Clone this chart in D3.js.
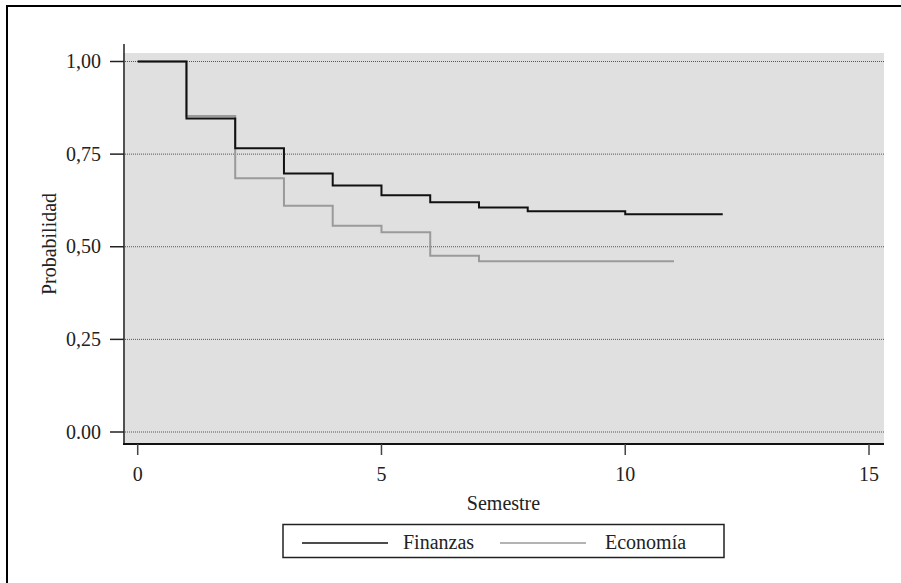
<!DOCTYPE html>
<html>
<head>
<meta charset="utf-8">
<script src="https://cdn.jsdelivr.net/npm/d3@7"></script>
<style>
  html, body { margin: 0; padding: 0; background: #fff; }
  svg { display: block; font-family: "Liberation Serif", "DejaVu Serif", serif; }
</style>
</head>
<body>
<svg id="chart" width="901" height="583"></svg>
<script>
// ---- data ----
const finanzasTimes  = [0, 1, 2, 3, 4, 5, 6, 7, 8, 10, 12];
const finanzasValues = [1.00, 0.846, 0.766, 0.698, 0.665, 0.639, 0.620, 0.606, 0.596, 0.588, 0.588];
const economiaTimes  = [0, 1, 2, 3, 4, 5, 6, 7, 11];
const economiaValues = [1.00, 0.853, 0.685, 0.611, 0.557, 0.539, 0.476, 0.461, 0.461];
const xTicks = [0, 5, 10, 15];
const yTicks = [0, 0.25, 0.5, 0.75, 1.0];
const yTickLabels = ["0.00", "0,25", "0,50", "0,75", "1,00"];
const seriesNames = ["Finanzas", "Economía"];
const xTitle = "Semestre";
const yTitle = "Probabilidad";

// ---- layout ----
const svg = d3.select("#chart");
const x = d3.scaleLinear().domain([0, 15]).range([137.7, 869]);
const y = d3.scaleLinear().domain([0, 1]).range([432, 61.5]);
const plot = { left: 123, right: 884, top: 53, bottom: 444 };
const fontSize = 20;

// outer frame (only top/left visible)
svg.append("rect").attr("x", 7).attr("y", 6).attr("width", 1200).attr("height", 1200)
  .attr("fill", "none").attr("stroke", "#000").attr("stroke-width", 2);

// plot background
svg.append("rect").attr("x", plot.left).attr("y", plot.top)
  .attr("width", plot.right - plot.left).attr("height", plot.bottom - plot.top)
  .attr("fill", "#e0e0e0");

// gridlines
svg.append("g").selectAll("line").data(yTicks).join("line")
  .attr("x1", plot.left).attr("x2", plot.right)
  .attr("y1", d => y(d)).attr("y2", d => y(d))
  .attr("stroke", "#555").attr("stroke-width", 1).attr("stroke-dasharray", "1,1");

// series
const line = d3.line().x(d => x(d[0])).y(d => y(d[1])).curve(d3.curveStepAfter);
const ecoData = d3.zip(economiaTimes, economiaValues);
const finData = d3.zip(finanzasTimes, finanzasValues);
svg.append("path").datum(ecoData).attr("d", line)
  .attr("fill", "none").attr("stroke", "#9a9a9a").attr("stroke-width", 2);
svg.append("path").datum(finData).attr("d", line)
  .attr("fill", "none").attr("stroke", "#111").attr("stroke-width", 2);

// axes lines
svg.append("line").attr("x1", 124).attr("x2", 124).attr("y1", 44).attr("y2", plot.bottom)
  .attr("stroke", "#222").attr("stroke-width", 1.5);
svg.append("line").attr("x1", plot.left).attr("x2", plot.right).attr("y1", plot.bottom).attr("y2", plot.bottom)
  .attr("stroke", "#111").attr("stroke-width", 2);

// y axis ticks & labels
const yAxis = svg.append("g");
yAxis.selectAll("line").data(yTicks).join("line")
  .attr("x1", 110).attr("x2", 124).attr("y1", d => y(d)).attr("y2", d => y(d))
  .attr("stroke", "#222").attr("stroke-width", 1.5);
yAxis.selectAll("text").data(yTicks).join("text")
  .attr("x", 101).attr("y", d => y(d) + 6.5)
  .attr("text-anchor", "end").attr("font-size", fontSize).attr("fill", "#222")
  .text((d, i) => yTickLabels[i]);

// x axis ticks & labels
const xAxis = svg.append("g");
xAxis.selectAll("line").data(xTicks).join("line")
  .attr("x1", d => x(d)).attr("x2", d => x(d)).attr("y1", plot.bottom).attr("y2", 455)
  .attr("stroke", "#444").attr("stroke-width", 1.5);
xAxis.selectAll("text").data(xTicks).join("text")
  .attr("x", d => x(d)).attr("y", 481)
  .attr("text-anchor", "middle").attr("font-size", fontSize).attr("fill", "#222")
  .text(d => d);

// axis titles
svg.append("text").attr("x", (plot.left + plot.right) / 2).attr("y", 510)
  .attr("text-anchor", "middle").attr("font-size", fontSize).attr("fill", "#222").text(xTitle);
svg.append("text").attr("transform", "translate(56,244) rotate(-90)")
  .attr("text-anchor", "middle").attr("font-size", fontSize).attr("fill", "#222").text(yTitle);

// legend
const lg = svg.append("g");
lg.append("rect").attr("x", 283).attr("y", 524.5).attr("width", 441).attr("height", 33)
  .attr("fill", "#fff").attr("stroke", "#222").attr("stroke-width", 1.5);
const legendItems = [
  { name: seriesNames[0], color: "#111", x0: 302, x1: 388, tx: 403 },
  { name: seriesNames[1], color: "#9a9a9a", x0: 500, x1: 586, tx: 605 }
];
lg.selectAll("line").data(legendItems).join("line")
  .attr("x1", d => d.x0).attr("x2", d => d.x1).attr("y1", 543).attr("y2", 543)
  .attr("stroke", d => d.color).attr("stroke-width", 1.5);
lg.selectAll("text").data(legendItems).join("text")
  .attr("x", d => d.tx).attr("y", 549)
  .attr("font-size", fontSize).attr("fill", "#222").text(d => d.name);
</script>
</body>
</html>
